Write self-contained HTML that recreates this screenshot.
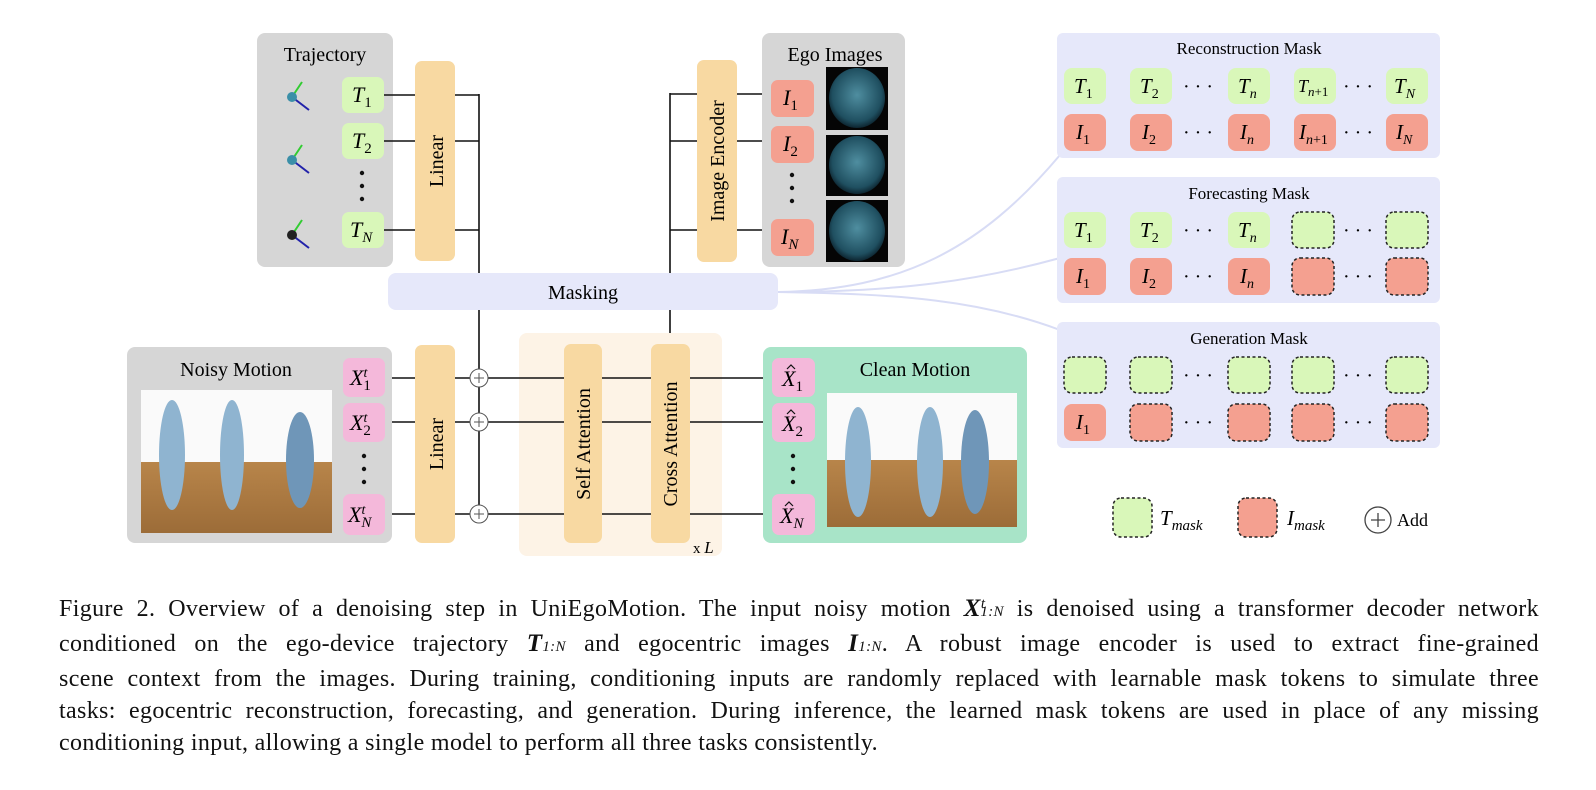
<!DOCTYPE html>
<html><head><meta charset="utf-8">
<style>
body{margin:0;background:#fff;width:1596px;height:790px;overflow:hidden;position:relative;font-family:"Liberation Serif",serif}
svg{position:absolute;left:0;top:0}
.cap{position:absolute;left:59px;width:1480px;font-size:24px;letter-spacing:0.35px;line-height:32px;color:#111;top:588px}
.cap div{text-align:justify;text-align-last:justify;white-space:nowrap}
.cap div.last{text-align-last:left}
.m{font-style:italic;font-weight:bold;font-size:25px}
.s{font-size:15px;font-style:italic}
</style></head><body>
<svg width="1596" height="590" viewBox="0 0 1596 590" font-family="Liberation Serif, serif">
<defs>
<radialGradient id="eg" cx="50%" cy="45%" r="55%"><stop offset="0" stop-color="#4f8ea0"/><stop offset="0.8" stop-color="#1f4f60"/><stop offset="1" stop-color="#0d2530"/></radialGradient>
<linearGradient id="fl" x1="0" y1="0" x2="0" y2="1"><stop offset="0" stop-color="#b8854a"/><stop offset="1" stop-color="#9c6c38"/></linearGradient>
</defs>
<g fill="none" stroke="#d8dcf5" stroke-width="2">
<path d="M778 292 C 900 290, 980 250, 1060 155"/>
<path d="M778 292 C 900 292, 980 280, 1060 258"/>
<path d="M778 292 C 900 294, 980 300, 1060 330"/>
</g>
<rect x="257" y="33" width="136" height="234" rx="8" fill="#d6d6d6"/>
<text x="325" y="61" font-size="20" text-anchor="middle">Trajectory</text>
<g stroke-width="2">
<g transform="translate(292,97)"><line x1="0" y1="0" x2="10" y2="-15" stroke="#33cc33"/><line x1="0" y1="0" x2="17" y2="13" stroke="#2222aa"/><circle r="5" fill="#3b8fa8"/></g>
<g transform="translate(292,160)"><line x1="0" y1="0" x2="10" y2="-15" stroke="#33cc33"/><line x1="0" y1="0" x2="17" y2="13" stroke="#2222aa"/><circle r="5" fill="#3b8fa8"/></g>
<g transform="translate(292,235)"><line x1="0" y1="0" x2="10" y2="-15" stroke="#33cc33"/><line x1="0" y1="0" x2="17" y2="13" stroke="#2222aa"/><circle r="5" fill="#222"/></g>
</g>
<g fill="#d9f7b9">
<rect x="342" y="77" width="42" height="36" rx="7"/>
<rect x="342" y="123" width="42" height="36" rx="7"/>
<rect x="342" y="212" width="42" height="36" rx="7"/>
</g>
<g font-size="22" font-style="italic">
<text x="352" y="102">T<tspan dy="5" font-size="15" font-style="normal">1</tspan></text>
<text x="352" y="148">T<tspan dy="5" font-size="15" font-style="normal">2</tspan></text>
<text x="350" y="237">T<tspan dy="5" font-size="15">N</tspan></text>
</g>
<g fill="#111"><circle cx="362" cy="173" r="2.2"/><circle cx="362" cy="186" r="2.2"/><circle cx="362" cy="199" r="2.2"/></g>
<rect x="415" y="61" width="40" height="200" rx="7" fill="#f8d9a2"/>
<text transform="translate(443,161) rotate(-90)" font-size="20" text-anchor="middle">Linear</text>
<g stroke="#111" stroke-width="1.6" fill="none">
<path d="M384 95H415M384 141H415M384 230H415"/>
<path d="M455 95H479M455 141H479M455 230H479M479 94V273"/>
<path d="M737 94H771M737 141H771M737 230H771"/>
<path d="M697 94H670M697 141H670M697 230H670M670 93V273"/>
<path d="M479 310V514M670 310V345"/>
<path d="M385 378H772M385 422H772M385 514H772"/>
</g>
<rect x="762" y="33" width="143" height="234" rx="8" fill="#d6d6d6"/>
<text x="835" y="61" font-size="20" text-anchor="middle">Ego Images</text>
<g fill="#f4a090">
<rect x="771" y="80" width="43" height="37" rx="7"/>
<rect x="771" y="126" width="43" height="37" rx="7"/>
<rect x="771" y="219" width="43" height="37" rx="7"/>
</g>
<g font-size="22" font-style="italic">
<text x="783" y="105">I<tspan dy="5" font-size="15" font-style="normal">1</tspan></text>
<text x="783" y="151">I<tspan dy="5" font-size="15" font-style="normal">2</tspan></text>
<text x="781" y="244">I<tspan dy="5" font-size="15">N</tspan></text>
</g>
<g fill="#111"><circle cx="792" cy="175" r="2.2"/><circle cx="792" cy="188" r="2.2"/><circle cx="792" cy="201" r="2.2"/></g>
<g>
<rect x="826" y="67" width="62" height="63" fill="#050505"/><ellipse cx="857" cy="98" rx="28" ry="30" fill="url(#eg)"/>
<rect x="826" y="135" width="62" height="61" fill="#050505"/><ellipse cx="857" cy="165" rx="28" ry="29" fill="url(#eg)"/>
<rect x="826" y="200" width="62" height="62" fill="#050505"/><ellipse cx="857" cy="231" rx="28" ry="30" fill="url(#eg)"/>
</g>
<rect x="697" y="60" width="40" height="202" rx="7" fill="#f8d9a2"/>
<text transform="translate(724,161) rotate(-90)" font-size="20" text-anchor="middle">Image Encoder</text>
<rect x="388" y="273" width="390" height="37" rx="8" fill="#e6e8fa"/>
<text x="583" y="299" font-size="20" text-anchor="middle">Masking</text>
<rect x="127" y="347" width="265" height="196" rx="8" fill="#d6d6d6"/>
<text x="236" y="376" font-size="20" text-anchor="middle">Noisy Motion</text>
<rect x="141" y="390" width="191" height="72" fill="#fafafa"/>
<rect x="141" y="462" width="191" height="71" fill="url(#fl)"/>
<g fill="#8fb4d0">
<ellipse cx="172" cy="455" rx="13" ry="55"/><ellipse cx="232" cy="455" rx="12" ry="55"/><ellipse cx="300" cy="460" rx="14" ry="48" fill="#6f96b8"/>
</g>
<rect x="519" y="333" width="203" height="223" rx="8" fill="#fdf3e6"/>
<g stroke="#111" stroke-width="1.6"><path d="M519 378H722M519 422H722M519 514H722"/></g>
<g fill="#f4b8da">
<rect x="343" y="358" width="42" height="39" rx="7"/>
<rect x="343" y="403" width="42" height="39" rx="7"/>
<rect x="343" y="494" width="42" height="41" rx="7"/>
</g>
<g font-size="22" font-style="italic">
<text x="350" y="385">X<tspan dy="-8" font-size="14">t</tspan><tspan dx="-4" dy="13" font-size="15" font-style="normal">1</tspan></text>
<text x="350" y="430">X<tspan dy="-8" font-size="14">t</tspan><tspan dx="-4" dy="13" font-size="15" font-style="normal">2</tspan></text>
<text x="348" y="522">X<tspan dy="-8" font-size="14">t</tspan><tspan dx="-4" dy="13" font-size="15">N</tspan></text>
</g>
<g fill="#111"><circle cx="364" cy="456" r="2.2"/><circle cx="364" cy="469" r="2.2"/><circle cx="364" cy="482" r="2.2"/></g>
<rect x="415" y="345" width="40" height="198" rx="7" fill="#f8d9a2"/>
<text transform="translate(443,444) rotate(-90)" font-size="20" text-anchor="middle">Linear</text>
<g fill="#fff" stroke="#555" stroke-width="1">
<circle cx="479" cy="378" r="9"/><circle cx="479" cy="422" r="9"/><circle cx="479" cy="514" r="9"/>
</g>
<g stroke="#555" stroke-width="1"><path d="M474 378h10M479 373v10M474 422h10M479 417v10M474 514h10M479 509v10"/></g>
<rect x="564" y="344" width="38" height="199" rx="7" fill="#f8d9a2"/>
<text transform="translate(590,444) rotate(-90)" font-size="20" text-anchor="middle">Self Attention</text>
<rect x="651" y="344" width="39" height="199" rx="7" fill="#f8d9a2"/>
<text transform="translate(677,444) rotate(-90)" font-size="20" text-anchor="middle">Cross Attention</text>
<text x="693" y="553" font-size="15">x <tspan font-style="italic" font-size="17">L</tspan></text>
<rect x="763" y="347" width="264" height="196" rx="8" fill="#a8e4c8"/>
<text x="915" y="376" font-size="20" text-anchor="middle">Clean Motion</text>
<rect x="827" y="393" width="190" height="67" fill="#fafafa"/>
<rect x="827" y="460" width="190" height="67" fill="url(#fl)"/>
<g fill="#8fb4d0">
<ellipse cx="858" cy="462" rx="13" ry="55"/><ellipse cx="930" cy="462" rx="13" ry="55"/><ellipse cx="975" cy="462" rx="14" ry="52" fill="#6f96b8"/>
</g>
<g fill="#f4b8da">
<rect x="772" y="358" width="43" height="39" rx="7"/>
<rect x="772" y="403" width="43" height="39" rx="7"/>
<rect x="772" y="494" width="43" height="41" rx="7"/>
</g>
<g font-size="22" font-style="italic">
<text x="782" y="386">X<tspan dy="5" font-size="15" font-style="normal">1</tspan></text>
<text x="782" y="431">X<tspan dy="5" font-size="15" font-style="normal">2</tspan></text>
<text x="780" y="523">X<tspan dy="5" font-size="15">N</tspan></text>
</g>
<g fill="none" stroke="#111" stroke-width="1.2">
<path d="M787 369l4-4 4 4M787 414l4-4 4 4M785 506l4-4 4 4"/>
</g>
<g fill="#111"><circle cx="793" cy="456" r="2.2"/><circle cx="793" cy="469" r="2.2"/><circle cx="793" cy="482" r="2.2"/></g>
<rect x="1057" y="33" width="383" height="125" rx="6" fill="#e6e8fa"/>
<rect x="1057" y="177" width="383" height="126" rx="6" fill="#e6e8fa"/>
<rect x="1057" y="322" width="383" height="126" rx="6" fill="#e6e8fa"/>
<g font-size="17" text-anchor="middle">
<text x="1249" y="54">Reconstruction Mask</text>
<text x="1249" y="199">Forecasting Mask</text>
<text x="1249" y="344">Generation Mask</text>
</g>
<g fill="#d9f7b9">
<rect x="1064" y="68" width="42" height="36" rx="8"/><rect x="1130" y="68" width="42" height="36" rx="8"/><rect x="1228" y="68" width="42" height="36" rx="8"/><rect x="1294" y="68" width="42" height="36" rx="8"/><rect x="1386" y="68" width="42" height="36" rx="8"/>
<rect x="1064" y="212" width="42" height="36" rx="8"/><rect x="1130" y="212" width="42" height="36" rx="8"/><rect x="1228" y="212" width="42" height="36" rx="8"/>
</g>
<g fill="#f4a090">
<rect x="1064" y="114" width="42" height="37" rx="8"/><rect x="1130" y="114" width="42" height="37" rx="8"/><rect x="1228" y="114" width="42" height="37" rx="8"/><rect x="1294" y="114" width="42" height="37" rx="8"/><rect x="1386" y="114" width="42" height="37" rx="8"/>
<rect x="1064" y="258" width="42" height="37" rx="8"/><rect x="1130" y="258" width="42" height="37" rx="8"/><rect x="1228" y="258" width="42" height="37" rx="8"/>
<rect x="1064" y="404" width="42" height="37" rx="8"/>
</g>
<g stroke="#222" stroke-width="1.5" stroke-dasharray="3,2.5">
<g fill="#d9f7b9">
<rect x="1292" y="212" width="42" height="36" rx="8"/><rect x="1386" y="212" width="42" height="36" rx="8"/>
<rect x="1064" y="357" width="42" height="36" rx="8"/><rect x="1130" y="357" width="42" height="36" rx="8"/><rect x="1228" y="357" width="42" height="36" rx="8"/><rect x="1292" y="357" width="42" height="36" rx="8"/><rect x="1386" y="357" width="42" height="36" rx="8"/>
<rect x="1113" y="498" width="39" height="39" rx="8"/>
</g>
<g fill="#f4a090">
<rect x="1292" y="258" width="42" height="37" rx="8"/><rect x="1386" y="258" width="42" height="37" rx="8"/>
<rect x="1130" y="404" width="42" height="37" rx="8"/><rect x="1228" y="404" width="42" height="37" rx="8"/><rect x="1292" y="404" width="42" height="37" rx="8"/><rect x="1386" y="404" width="42" height="37" rx="8"/>
<rect x="1238" y="498" width="39" height="39" rx="8"/>
</g>
</g>
<g font-size="20" text-anchor="middle">
<text x="1198" y="93">· · ·</text><text x="1358" y="93">· · ·</text>
<text x="1198" y="139">· · ·</text><text x="1358" y="139">· · ·</text>
<text x="1198" y="237">· · ·</text><text x="1358" y="237">· · ·</text>
<text x="1198" y="283">· · ·</text><text x="1358" y="283">· · ·</text>
<text x="1198" y="382">· · ·</text><text x="1358" y="382">· · ·</text>
<text x="1198" y="429">· · ·</text><text x="1358" y="429">· · ·</text>
</g>
<g font-size="21" font-style="italic">
<text x="1074" y="93">T<tspan dy="5" font-size="14" font-style="normal">1</tspan></text>
<text x="1140" y="93">T<tspan dy="5" font-size="14" font-style="normal">2</tspan></text>
<text x="1238" y="93">T<tspan dy="5" font-size="14">n</tspan></text>
<text x="1298" y="92" font-size="18">T<tspan dy="4" font-size="13">n</tspan><tspan font-size="13" font-style="normal">+1</tspan></text>
<text x="1394" y="93">T<tspan dy="5" font-size="14">N</tspan></text>
<text x="1076" y="139">I<tspan dy="5" font-size="14" font-style="normal">1</tspan></text>
<text x="1142" y="139">I<tspan dy="5" font-size="14" font-style="normal">2</tspan></text>
<text x="1240" y="139">I<tspan dy="5" font-size="14">n</tspan></text>
<text x="1299" y="139">I<tspan dy="5" font-size="14">n</tspan><tspan font-size="14" font-style="normal">+1</tspan></text>
<text x="1396" y="139">I<tspan dy="5" font-size="14">N</tspan></text>
<text x="1074" y="237">T<tspan dy="5" font-size="14" font-style="normal">1</tspan></text>
<text x="1140" y="237">T<tspan dy="5" font-size="14" font-style="normal">2</tspan></text>
<text x="1238" y="237">T<tspan dy="5" font-size="14">n</tspan></text>
<text x="1076" y="283">I<tspan dy="5" font-size="14" font-style="normal">1</tspan></text>
<text x="1142" y="283">I<tspan dy="5" font-size="14" font-style="normal">2</tspan></text>
<text x="1240" y="283">I<tspan dy="5" font-size="14">n</tspan></text>
<text x="1076" y="429">I<tspan dy="5" font-size="14" font-style="normal">1</tspan></text>
<text x="1160" y="525">T<tspan dy="5" font-size="15">mask</tspan></text>
<text x="1287" y="525">I<tspan dy="5" font-size="15">mask</tspan></text>
</g>
<circle cx="1378" cy="520" r="13" fill="none" stroke="#444" stroke-width="1.3"/>
<path d="M1371 520h14M1378 513v14" stroke="#444" stroke-width="1.3"/>
<text x="1397" y="526" font-size="18">Add</text>
</svg>
<div class="cap">
<div>Figure 2. Overview of a denoising step in UniEgoMotion. The input noisy motion <span class="m">X</span><sup class="s" style="vertical-align:8px">t</sup><span class="s" style="margin-left:-5px">1:N</span> is denoised using a transformer decoder network</div>
<div>conditioned on the ego-device trajectory <span class="m">T</span><span class="s">1:N</span> and egocentric images <span class="m">I</span><span class="s">1:N</span>. A robust image encoder is used to extract fine-grained</div>
<div>scene context from the images. During training, conditioning inputs are randomly replaced with learnable mask tokens to simulate three</div>
<div>tasks: egocentric reconstruction, forecasting, and generation. During inference, the learned mask tokens are used in place of any missing</div>
<div class="last">conditioning input, allowing a single model to perform all three tasks consistently.</div>
</div>
</body></html>
